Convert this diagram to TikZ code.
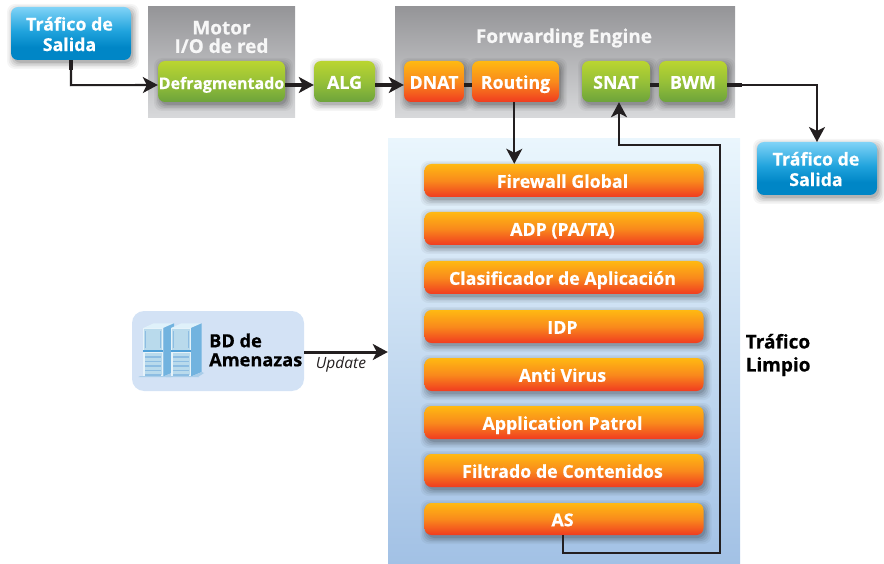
\documentclass[tikz,border=0pt]{standalone}
\usepackage{fontspec}
\setmainfont{Open Sans}[BoldFeatures={FakeBold=0.5}]
\usetikzlibrary{arrows.meta,calc}
\definecolor{ink}{HTML}{231F20}
\definecolor{D1}{HTML}{D3E2F5}
\definecolor{oT}{HTML}{FFB912}\definecolor{oM}{HTML}{F98A1C}\definecolor{oB}{HTML}{F03B20}
\definecolor{gT}{HTML}{BAD530}\definecolor{gM}{HTML}{97C138}\definecolor{gB}{HTML}{6DA33B}
\definecolor{bT}{HTML}{80D3F7}\definecolor{bM}{HTML}{1FA2DC}\definecolor{bB}{HTML}{0086C6}
\definecolor{pT}{HTML}{959598}\definecolor{pB}{HTML}{D8D9DB}
\definecolor{fT}{HTML}{EAF6FD}\definecolor{fB}{HTML}{A2C1E5}
\definecolor{B1}{HTML}{DFF1FA}\definecolor{B2}{HTML}{72B3DF}\definecolor{B3}{HTML}{B9DAEC}\definecolor{B4}{HTML}{8DBDE2}\definecolor{B5}{HTML}{4FA0D8}\definecolor{B6}{HTML}{E6F3FA}\definecolor{B7}{HTML}{A9CDE9}
\pgfdeclareverticalshading{orangesh}{100bp}{color(0bp)=(oB);color(25bp)=(oB);color(50bp)=(oM);color(75bp)=(oT);color(100bp)=(oT)}
\pgfdeclareverticalshading{greensh}{100bp}{color(0bp)=(gB);color(25bp)=(gB);color(50bp)=(gM);color(75bp)=(gT);color(100bp)=(gT)}
\pgfdeclareverticalshading{bluesh}{100bp}{color(0bp)=(bB);color(25bp)=(bB);color(37bp)=(bB);color(52bp)=(bM);color(75bp)=(bT);color(100bp)=(bT)}
\pgfdeclareverticalshading{panelsh}{100bp}{color(0bp)=(pB);color(25bp)=(pB);color(75bp)=(pT);color(100bp)=(pT)}
\pgfdeclareverticalshading{fieldsh}{100bp}{color(0bp)=(fB);color(25bp)=(fB);color(75bp)=(fT);color(100bp)=(fT)}
\tikzset{
 boxtext/.style={text=white,font=\fontsize{17.8}{20.5}\selectfont\bfseries,align=center,inner sep=0pt,rounded corners=7pt},
 orangebox/.style={boxtext,shading=orangesh},
 greenbox/.style={boxtext,shading=greensh},
 bluebox/.style={boxtext,shading=bluesh},
 flow/.style={ink,line width=2.1pt,-{Stealth[length=15pt,width=16pt,inset=4pt]}},
 shortflow/.style={flow,line width=3.5pt},
 plain/.style={ink,line width=3.5pt},
 stub/.style={ink,line width=3.6pt},
 title/.style={text=white!97!black,font=\fontsize{19}{18.5}\selectfont\bfseries,align=center,inner sep=0pt},
 darktext/.style={text=black,font=\fontsize{19}{23}\selectfont\bfseries,align=left,inner sep=0pt},
}
% \bx{name}{style}{x1}{y1}{x2}{y2}{text}
\newcommand{\bx}[7]{%
 \foreach \e/\o in {6/.04,4.5/.05,3/.07,1.5/.08,0/.1}{%
  \fill[black,opacity=\o,rounded corners=8pt] ({#3+2-\e},{#4+3-\e}) rectangle ({#5+2+\e},{#6+3+\e});}%
 \node[#2,minimum width={(#5-#3)*1pt},minimum height={(#6-#4)*1pt}] (#1) at ({(#3+#5)/2},{(#4+#6)/2}) {\rule{0pt}{1.06em}#7\vphantom{p}};}
% one server at left x of front face
\newcommand{\srv}[1]{%
 \begin{scope}[shift={(#1,0)}]
  \fill[B1]  (0,328) -- (10.5,323.3) -- (30.7,323.3) -- (20,328) -- cycle;
  \fill[B2]  (20,328) -- (30.7,323.3) -- (30.7,372) -- (20,376.5) -- cycle;
  \fill[B6]  (0,328) rectangle (20,376.5);
  \fill[B3]  (1,329) rectangle (19,350);
  \fill[B3]  (1.5,353) rectangle (18.5,375);
  \fill[B4]  (1.7,331) rectangle (2.7,348);
  \fill[B4]  (16.5,331) rectangle (17.5,348);
  \fill[B5]  (0,350) rectangle (20,351.6);
  \foreach \y in {356,360.5,365,369.5,374}{\fill[B4] (2,\y) rectangle (18,{\y+1.6});}
  \fill[B7] (-5,377) -- (28,377) -- (22,376) -- (-3,376) -- cycle;
  \fill[B7] (20,376.5) -- (30.7,372) -- (33,373) -- (27,377) -- cycle;
 \end{scope}}
\begin{document}
\begin{tikzpicture}[x=1pt,y=-1pt]
\useasboundingbox (0,0) rectangle (884,564);
% backgrounds
\node[shading=panelsh,inner sep=0pt,minimum width=147pt,minimum height=111pt] (motorpanel) at (221.5,62.5) {};
\node[shading=panelsh,inner sep=0pt,minimum width=340pt,minimum height=111pt] (fwdpanel) at (565,62.5) {};
\node[shading=fieldsh,inner sep=0pt,minimum width=352pt,minimum height=425pt] (field) at (564,351.5) {};
\node[title] (motortitle) at (221.5,37) {Motor\\I/O de red};
\node[title] (fwdtitle) at (564,38) {Forwarding Engine};
% top row
\bx{src}{bluebox}{11}{7}{131}{60}{Tráfico de\kern3pt\\Salida\kern3pt}
\bx{defrag}{greenbox}{158}{61}{285}{102}{\fontsize{16}{20}\selectfont Defragmentado}
\bx{alg}{greenbox}{314}{61}{375}{102}{ALG}
\bx{dnat}{orangebox}{404}{61}{464}{102}{DNAT}
\bx{routing}{orangebox}{472}{61}{559}{102}{Routing}
\bx{snat}{greenbox}{582}{61}{650}{102}{SNAT}
\bx{bwm}{greenbox}{659}{61}{727}{102}{BWM}
\bx{dst}{bluebox}{757}{142}{877}{195}{Tráfico de\kern2pt\\Salida\kern2pt}
% stack
\bx{fw}{orangebox}{424.5}{164}{703.5}{197}{Firewall Global\kern3pt}
\bx{adp}{orangebox}{424.5}{212}{703.5}{245}{ADP (PA/TA)\kern3pt}
\bx{cls}{orangebox}{424.5}{261}{703.5}{294}{Clasificador de Aplicación\kern3pt}
\bx{idp}{orangebox}{424.5}{310}{703.5}{343}{IDP\kern3pt}
\bx{av}{orangebox}{424.5}{358}{703.5}{391}{Anti Virus\kern3pt}
\bx{ap}{orangebox}{424.5}{406}{703.5}{439}{Application Patrol\kern3pt}
\bx{fc}{orangebox}{424.5}{454}{703.5}{487}{Filtrado de Contenidos\kern3pt}
\bx{as}{orangebox}{424.5}{503}{703.5}{535}{AS\kern3pt}
% threat database
\node[fill=D1,rounded corners=12pt,inner sep=0pt,minimum width=172pt,minimum height=80pt] (bd) at (218,351) {};
\srv{143.3}\srv{171}
\node[darktext,anchor=west,font=\fontsize{18.2}{19}\selectfont\bfseries] (bdtext) at (209,350) {BD de\\Amenazas};
\node[darktext,anchor=west] (clean) at (745.5,355) {Tráfico\\Limpio};
% connectors
\coordinate (asout) at (563,535);
\coordinate (c1) at (720,553);
\coordinate (c2) at (619,145);
\coordinate (c3) at (817,142);
\draw[stub] (src.south) -- ++(0,10);
\draw[stub] ([yshift=-3.5pt]bwm.east) -- ++(15,0);
\draw[flow] (src.south) -- ++(0,25) -- ([yshift=-3.5pt]defrag.west);
\draw[shortflow] ([yshift=-3.5pt]defrag.east) -- ([yshift=-3.5pt]alg.west);
\draw[shortflow] ([yshift=-3.5pt]alg.east) -- ([yshift=-3.5pt]dnat.west);
\draw[plain] ([yshift=-3.5pt]dnat.east) -- ([yshift=-3.5pt]routing.west);
\draw[plain] ([yshift=-3.5pt]snat.east) -- ([yshift=-3.5pt]bwm.west);
\draw[flow] ([yshift=-3.5pt]bwm.east) -| (c3);
\draw[flow] ([xshift=-1.2pt]routing.south) -- ([xshift=-1.2pt]routing.south |- fw.north);
\draw[flow] (asout) |- (c1) |- (c2) -- (c2 |- snat.south);
\draw[shortflow,line width=3pt] ([yshift=-1pt]bd.east) -- ([yshift=-1pt]field.west |- bd.east) node[pos=.44,below=3pt,inner sep=0pt,text=ink,font=\fontsize{15.5}{16}\selectfont\itshape] (upd) {Update};
\end{tikzpicture}
\end{document}
